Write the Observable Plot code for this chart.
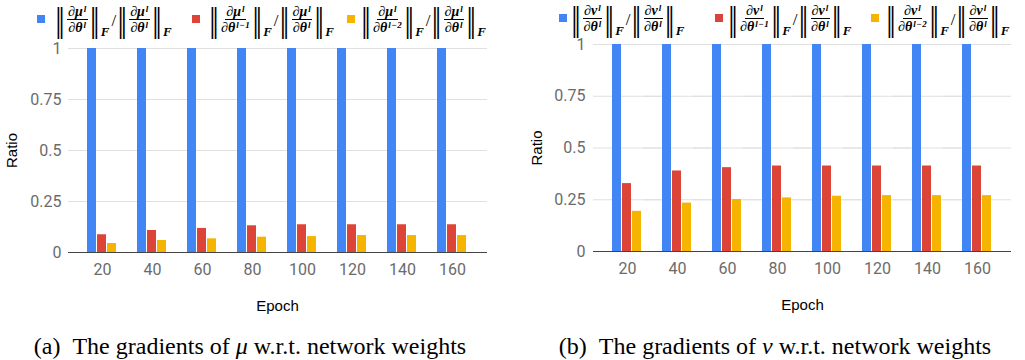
<!DOCTYPE html>
<html><head><meta charset="utf-8">
<script src="https://cdn.jsdelivr.net/npm/d3@7"></script>
<script src="https://cdn.jsdelivr.net/npm/@observablehq/plot@0.6"></script>
<style>
html,body{margin:0;padding:0;background:#fff;}
#root{position:relative;width:1025px;height:360px;overflow:hidden;}
.panel{position:absolute;top:38px;}
.sq{position:absolute;width:8px;height:8px;}
.m{position:absolute;display:flex;align-items:center;height:36px;font-family:"Liberation Serif",serif;font-weight:bold;font-size:14px;color:#000;white-space:nowrap;}
.fr{display:inline-flex;flex-direction:column;align-items:center;margin:0 2px;}
.nu{border-bottom:1px solid #000;padding:0 1px 1px 1px;line-height:12px;}
.de{line-height:12px;padding-top:2px;}
.fr sup{font-size:9px;vertical-align:4px;line-height:0;margin-left:1px;letter-spacing:0.5px;}
.nb{font-family:"DejaVu Serif",serif;font-weight:normal;font-size:20px;line-height:20px;display:inline-block;transform:scaleY(1.62);}
.sub{align-self:flex-end;font-style:italic;font-size:13px;line-height:12px;margin-left:1px;margin-right:1px;}
.sl{font-weight:normal;font-size:17px;margin:0 1px;position:relative;top:1px;}
.cap{position:absolute;top:332px;font-family:"Liberation Serif",serif;font-size:24px;color:#000;text-align:center;line-height:28px;}
</style></head><body><div id="root"></div>
<script>
const epochs = [20, 40, 60, 80, 100, 120, 140, 160];
const seriesKeys = ["cur", "prev1", "prev2"];
const seriesColors = ["#4285F4", "#DB4437", "#F4B400"];
const yTicks = [0, 0.25, 0.5, 0.75, 1];
const denSups = ["l", "l\u22121", "l\u22122"];

const muCur   = [1, 1, 1, 1, 1, 1, 1, 1];
const muPrev1 = [0.087, 0.108, 0.118, 0.131, 0.136, 0.136, 0.136, 0.136];
const muPrev2 = [0.044, 0.059, 0.067, 0.075, 0.078, 0.083, 0.083, 0.083];
const nuCur   = [1, 1, 1, 1, 1, 1, 1, 1];
const nuPrev1 = [0.328, 0.389, 0.405, 0.413, 0.413, 0.413, 0.413, 0.413];
const nuPrev2 = [0.194, 0.234, 0.251, 0.259, 0.267, 0.270, 0.270, 0.270];

const captionA = ["(a)", "The gradients of ", "\u03bc", " w.r.t. network weights"];
const captionB = ["(b)", "The gradients of ", "\u03bd", " w.r.t. network weights"];

function rows(cur, p1, p2) {
  return epochs.flatMap((e, i) => [
    {epoch: e, series: "cur", value: cur[i]},
    {epoch: e, series: "prev1", value: p1[i]},
    {epoch: e, series: "prev2", value: p2[i]}
  ]);
}

function chart(data, o) {
  const svg = Plot.plot({
    width: o.width, height: o.height,
    marginTop: o.mt, marginBottom: o.mb, marginLeft: o.ml, marginRight: o.mr,
    style: {fontFamily: "Roboto", fontSize: "16px", color: "#6b6b6b", background: "transparent", overflow: "visible"},
    fx: {domain: epochs, padding: 0, axis: null},
    x: {domain: seriesKeys, paddingInner: 0.08, paddingOuter: 0.85, axis: null},
    y: {domain: [0, 1], axis: null},
    color: {domain: seriesKeys, range: seriesColors},
    marks: [
      Plot.gridY(yTicks, {stroke: "#e0e0e0", strokeOpacity: 1, insetLeft: -o.gl, insetRight: -o.gr}),
      Plot.barY(data, {fx: "epoch", x: "series", y: "value", fill: "series"}),
      Plot.ruleY([0], {stroke: "#444", insetLeft: -o.gl, insetRight: -o.gr}),
      Plot.axisY({ticks: yTicks, tickSize: 0, tickPadding: o.tp, tickFormat: d => String(d), fill: "#6b6b6b",
        label: "Ratio", labelArrow: "none", labelAnchor: "center", labelOffset: o.lo}),
      Plot.axisFx({anchor: "bottom", tickSize: 0, tickPadding: 11, fill: "#6b6b6b",
        label: "Epoch", labelArrow: "none", labelAnchor: "center", labelOffset: o.xlo})
    ]
  });
  d3.select(svg).selectAll('[aria-label="y-axis label"], [aria-label="fx-axis label"], [aria-label="y-axis label"] text, [aria-label="fx-axis label"] text')
    .attr("font-family", "Liberation Sans, Arial, sans-serif").attr("font-size", 15).attr("fill", "#000");
  return svg;
}

const root = document.getElementById("root");

function addPanel(svg, left) {
  const d = document.createElement("div");
  d.className = "panel";
  d.style.left = left + "px";
  d.appendChild(svg);
  root.appendChild(d);
}

addPanel(chart(rows(muCur, muPrev1, muPrev2), {width: 512, height: 282, mt: 10, mb: 68, ml: 77, mr: 35, gl: 9, gr: 10, tp: 16, lo: 71, xlo: 58}), 0);
addPanel(chart(rows(nuCur, nuPrev1, nuPrev2), {width: 513, height: 282, mt: 6, mb: 69, ml: 86, mr: 20, gl: 9, gr: 9, tp: 17, lo: 71, xlo: 58}), 512);

function frac(v, sup) {
  return `<span class="nb">\u2016</span><span class="fr"><span class="nu">\u2202<i>${v}</i><sup><i>l</i></sup></span><span class="de">\u2202<i>\u03b8</i><sup><i>${sup}</i></sup></span></span><span class="nb">\u2016</span><span class="sub">F</span>`;
}
function legend(v, sqX, txX, top) {
  seriesKeys.forEach((k, i) => {
    const sq = document.createElement("div");
    sq.className = "sq";
    sq.style.left = sqX[i] + "px";
    sq.style.top = (top + 13) + "px";
    sq.style.background = seriesColors[i];
    root.appendChild(sq);
    const m = document.createElement("div");
    m.className = "m";
    m.style.left = txX[i] + "px";
    m.style.top = top + "px";
    m.innerHTML = frac(v, denSups[i]) + `<span class="sl">/</span>` + frac(v, "l");
    root.appendChild(m);
  });
}
legend("\u03bc", [37, 192, 347], [55, 209, 361], 2);
legend("\u03bd", [559, 715, 871], [571, 728, 886], 1);

function caption(parts, left, width) {
  const c = document.createElement("div");
  c.className = "cap";
  c.style.left = left + "px";
  c.style.width = width + "px";
  c.innerHTML = `${parts[0]}&ensp;${parts[1]}<i>${parts[2]}</i>${parts[3]}`;
  root.appendChild(c);
}
caption(captionA, 0, 500);
caption(captionB, 525, 500);
</script></body></html>
